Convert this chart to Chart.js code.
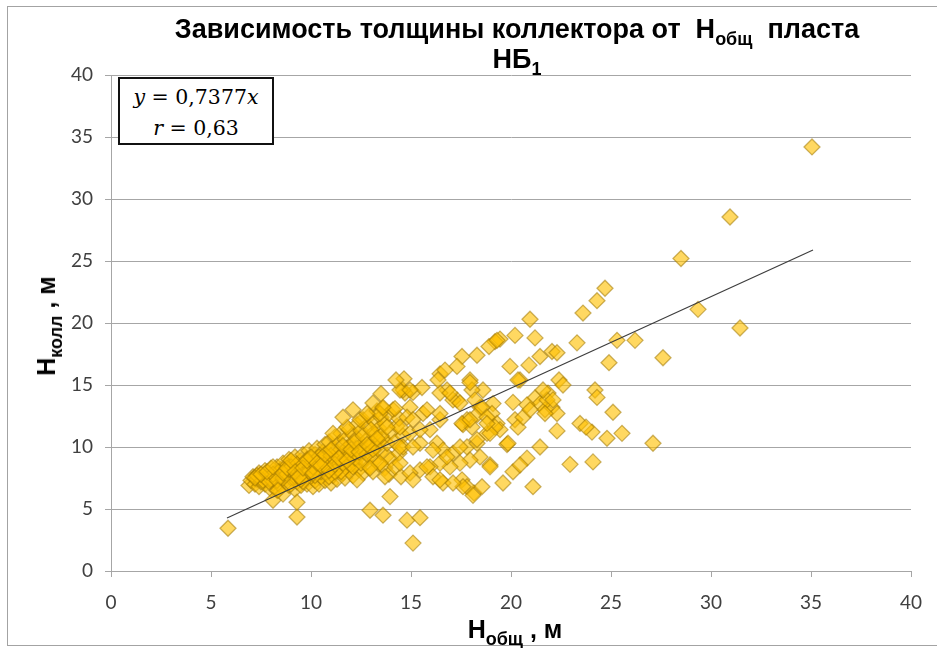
<!DOCTYPE html>
<html>
<head>
<meta charset="utf-8">
<script src="https://cdn.jsdelivr.net/npm/chart.js@4.4.1/dist/chart.umd.min.js"></script>
<style>
  html, body { margin: 0; padding: 0; background: #fff; }
  #wrap { position: relative; width: 937px; height: 648px; overflow: hidden; background: #fff; }
  #frame { position: absolute; left: 7px; top: 6px; width: 960px; height: 640px; border: 1.5px solid #a3a3a3; box-sizing: border-box; }
  canvas { position: absolute; left: 0; top: 0; }
  .ttl { position: absolute; white-space: nowrap; color: #000; font-family: 'Liberation Sans', Arial, sans-serif; font-weight: bold; }
  .ttl sub { font-size: 18px; vertical-align: -7px; line-height: 0; }
  #title { left: 0; top: 14px; width: 1034px; text-align: center; font-size: 27px; line-height: 30px; }
  #xtitle { left: 515px; top: 615px; transform: translateX(-50%); font-size: 25px; line-height: 28px; }
  #ytitle { left: 46px; top: 326px; transform: translate(-50%, -50%) rotate(-90deg); font-size: 25px; line-height: 28px; }
  #eq { position: absolute; left: 118px; top: 77px; width: 156px; height: 68px; border: 2.5px solid #111; box-sizing: border-box; background: #fff;
        font-family: 'DejaVu Serif', 'Liberation Serif', serif; font-size: 20.5px; line-height: 31px; text-align: center; padding-top: 3px; color: #000; }
</style>
</head>
<body>
<div id="wrap">
  <div id="frame"></div>
  <canvas id="c" width="937" height="648"></canvas>
  <div id="title" class="ttl">Зависимость толщины коллектора от&nbsp; Н<sub>общ</sub> &nbsp;пласта<br>НБ<sub>1</sub></div>
  <div id="ytitle" class="ttl">Н<sub>колл</sub> , м</div>
  <div id="xtitle" class="ttl">Н<sub>общ</sub> , м</div>
  <div id="eq"><i>y</i> = 0,7377<i>x</i><br><i>r</i> = 0,63</div>
</div>
<script>
// Regression shown in the box: Hколл = 0,7377 · Hобщ, drawn over the sampled range
const trendSlope = 0.7377;
const trendRange = [5.8, 35.1];

// Axis ticks
const xTicks = [0, 5, 10, 15, 20, 25, 30, 35, 40];
const yTicks = [0, 5, 10, 15, 20, 25, 30, 35, 40];

// Wells with thin sections (Hобщ, Hколл in metres), dense core of the sample
const coreSamples = [
  [6.9,6.9],[7.0,7.3],[7.1,7.6],[7.2,7.0],[7.3,7.4],[7.4,7.9],[7.4,6.8],[7.5,7.2],[7.6,7.6],[7.7,8.1],
  [7.7,7.0],[7.8,7.4],[7.9,7.8],[8.0,8.3],[8.0,6.6],[8.1,7.1],[8.2,7.5],[8.2,7.9],[8.3,8.4],[8.3,6.5],
  [8.4,7.0],[8.5,7.7],[8.5,8.2],[8.6,8.7],[8.6,6.2],[8.7,7.3],[8.8,7.9],[8.8,8.5],[8.9,9.0],[8.9,6.9],
  [9.0,7.5],[9.1,8.1],[9.1,8.7],[9.2,6.6],[9.2,9.2],[9.3,7.2],[9.3,7.8],[9.4,8.4],[9.5,8.9],[9.5,6.9],
  [9.6,9.4],[9.6,7.5],[9.7,8.1],[9.8,8.6],[9.8,7.0],[9.9,9.1],[9.9,9.7],[10.0,7.6],[10.0,8.2],[10.1,6.8],
  [10.1,8.8],[10.2,9.4],[10.2,7.3],[10.3,7.9],[10.3,9.9],[10.4,8.5],[10.4,7.0],[10.5,9.1],[10.5,7.6],[10.6,8.2],
  [10.6,9.6],[10.7,10.2],[10.7,7.3],[10.8,8.8],[10.8,7.9],[10.9,9.4],[10.9,10.4],[11.0,7.1],[11.0,8.5],[11.1,9.9],
  [11.1,7.7],[11.2,9.1],[11.2,10.8],[11.3,8.2],[11.3,7.4],[11.4,9.6],[11.4,10.3],[11.5,8.8],[11.5,11.1],[11.6,7.9],
  [11.6,9.3],[11.7,10.6],[11.7,7.5],[11.8,8.5],[11.8,9.9],[11.9,11.4],[11.9,8.1],[12.0,9.0],[12.0,10.2],[12.1,7.7],
  [12.1,11.0],[12.2,8.7],[12.2,9.6],[12.3,10.7],[12.3,11.8],[12.4,8.2],[12.4,9.2],[12.5,10.1],[12.5,11.3],[12.6,7.9],
  [12.6,12.2],[12.7,8.9],[12.7,9.8],[12.8,10.6],[12.8,11.7],[12.9,8.4],[12.9,12.5],[13.0,9.4],[13.0,10.3],[13.1,11.1],
  [13.1,8.0],[13.2,12.0],[13.2,9.0],[13.3,12.9],[13.3,10.0],[13.4,8.6],[13.4,11.5],[13.5,9.6],[13.5,12.4],[13.6,10.7],
  [13.6,13.1],[13.7,8.3],[13.7,11.9],[13.8,9.3],[13.8,10.3],[13.9,12.7],[13.9,7.8],[14.0,11.2],[14.0,9.0],[14.1,13.0],
  [14.2,10.4],[14.2,8.4],[14.3,11.7],[14.4,9.5],[14.4,12.3],[14.5,7.6],[14.6,10.9],
  [8.4,7.6],[8.7,8.0],[9.0,8.4],[9.2,7.6],[9.4,8.0],[9.7,7.8],[10.0,8.6],[10.3,8.3],[10.5,8.0],[10.8,8.4],
  [11.1,8.9],[11.4,8.6],[11.7,9.1],[12.0,8.6],[9.0,7.0],[9.6,7.2],[10.2,7.7],[10.9,7.6],[11.5,8.0],[12.1,8.4],
  [7.6,7.3],[8.0,7.4],[8.4,8.0],[9.8,9.0],[10.6,9.0],[11.3,9.5],[12.3,9.9],[12.9,10.0],[13.4,10.4],[13.2,11.0],
  [7.3,7.7],[7.9,7.2],[8.1,7.8],[8.6,7.5],[8.9,8.2],[9.3,8.6],[9.5,7.4],[9.9,8.0],[10.1,8.4],[10.4,9.2],
  [10.7,8.6],[11.0,9.3],[11.2,8.0],[11.6,8.7],[11.9,9.5],[12.2,9.1],[12.5,8.7],[12.8,9.4],[13.1,9.8],[13.5,10.9],
  [7.2,7.5],[7.5,7.8],[7.8,8.0],[8.1,8.4],[8.3,7.3],[8.6,7.9],[8.8,8.3],[9.0,8.9],[9.2,8.0],[9.4,7.6],
  [9.6,8.3],[9.8,8.9],[10.0,9.2],[10.1,7.9],[10.3,8.7],[10.5,8.5],[10.7,9.4],[10.9,8.1],[11.0,9.8],[11.2,8.6],
  [11.4,9.1],[11.6,10.1],[11.8,8.9],[12.0,9.8],[12.2,10.4],[12.4,9.6],[12.6,10.9],[12.8,10.2],[13.0,11.4],[13.3,10.7]
];

// Remaining wells, spread over the wider range
const spreadSamples = [
  [5.85,3.45],[35.05,34.2],[30.95,28.55],[28.5,25.2],[29.35,21.1],[31.45,19.6],[24.7,22.8],[24.3,21.8],[23.6,20.8],[20.95,20.3],
  [20.2,19.0],[19.45,18.7],[19.2,18.5],[18.9,18.1],[21.2,18.8],[23.3,18.4],[25.3,18.6],[26.2,18.6],[24.9,16.8],[27.6,17.2],
  [18.3,17.4],[17.55,17.3],[17.3,16.5],[16.45,15.9],[16.7,16.2],[19.95,16.5],[20.9,16.6],[21.45,17.3],[22.05,17.7],[22.3,17.6],
  [17.95,15.4],[18.6,14.6],[20.45,15.4],[22.4,15.4],[22.6,15.0],[24.2,14.6],[24.3,14.0],[25.1,12.8],[25.55,11.1],[24.8,10.7],
  [27.1,10.3],[24.05,11.2],[23.45,11.9],[23.75,11.6],[22.3,11.3],[21.45,10.0],[19.8,10.2],[22.95,8.6],[24.1,8.8],[21.1,6.8],
  [19.6,7.1],[18.15,6.3],[18.55,6.8],[20.1,8.0],[20.8,9.1],[20.45,8.55],[14.8,4.1],[15.45,4.3],[15.1,2.25],[21.2,13.95],
  [21.45,13.5],[21.7,13.0],[22.05,13.2],[21.85,14.35],[20.8,13.4],[20.1,13.6],[20.2,12.2],[20.35,11.6],[19.1,13.5],[19.05,12.7],
  [19.3,11.9],[18.45,13.2],[18.3,12.6],[17.8,12.2],[17.6,11.8],[18.05,11.6],[18.8,11.1],[19.45,11.4],[22.3,12.7],[16.45,12.2],
  [17.3,13.8],[16.8,14.6],[15.1,14.4],[15.55,14.8],[14.7,14.35],[14.95,13.2],[14.8,12.4],[15.6,12.7],[15.95,11.4],[14.95,11.1],
  [15.45,10.3],[14.6,10.0],[16.3,10.3],[16.6,9.75],[17.1,9.5],[17.8,10.0],[18.3,10.3],[18.45,9.2],[18.95,8.55],[17.95,8.95],
  [17.45,8.7],[16.95,8.4],[16.45,8.7],[15.95,8.4],[15.45,8.15],[14.95,7.9],[15.1,7.35],[16.1,7.6],[16.6,7.1],[17.55,7.35],
  [17.8,6.8],[12.95,4.9],[13.6,4.5],[13.95,6.0],[9.3,4.35],[9.3,5.55],[8.1,5.7],[14.2,13.1],[14.6,14.6],[19.3,18.6],
  [21.8,13.8],[21.7,12.7],[16.45,14.35],[17.1,13.8],[18.05,14.6],[18.2,13.8],[18.55,13.2],[17.55,11.9],[17.95,12.2],[18.8,12.4],
  [19.2,11.6],[18.95,11.1],[19.85,10.3],[20.6,12.4],[20.95,13.0],[21.6,14.6],[22.1,13.8],[20.35,15.4],[14.45,14.6],[14.95,14.6],
  [16.95,14.35],[17.95,15.2],[16.35,15.4],[17.6,6.8],[18.1,6.1],[18.95,8.4],[17.1,7.1],[16.45,7.35],[15.8,8.4],[14.45,8.7],
  [13.7,7.6],[13.45,8.7],[12.95,8.3],[12.3,7.35],[14.45,10.0],[15.1,10.0],[16.1,9.75],[16.8,9.2],[17.45,10.0],[18.3,10.6],
  [18.8,11.9],[17.45,13.55],[16.45,12.7],[15.8,13.0],[15.1,12.2],[15.45,11.4],[14.45,11.6],[13.8,11.6],[13.45,12.7],[13.1,13.55],
  [13.6,13.2],[12.45,12.2],[11.8,11.6],[11.1,11.1],[11.6,12.4],[12.1,13.0],[12.8,12.7],[8.35,6.5],[14.65,15.5],[14.25,15.4],
  [13.5,14.3]
];

const points = coreSamples.concat(spreadSamples).map(([x, y]) => ({ x, y }));
const trendLine = trendRange.map(x => ({ x, y: trendSlope * x }));

const axisGray = '#a6a6a6';
const tickFont = { family: 'Lato, "Open Sans", sans-serif', size: 19 };

new Chart(document.getElementById('c'), {
  type: 'scatter',
  data: {
    datasets: [
      {
        type: 'line',
        data: trendLine,
        borderColor: '#3d3d3d',
        borderWidth: 1.2,
        pointRadius: 0,
        fill: false,
        order: 0
      },
      {
        data: points,
        pointStyle: 'rectRot',
        pointRadius: 8,
        backgroundColor: 'rgba(255,192,0,0.62)',
        borderColor: 'rgba(160,120,0,0.55)',
        borderWidth: 1.3,
        order: 1
      }
    ]
  },
  options: {
    responsive: false,
    animation: false,
    devicePixelRatio: 1,
    events: [],
    layout: { padding: { left: 0, top: 75, right: 26, bottom: 0 } },
    plugins: { legend: { display: false }, tooltip: { enabled: false }, title: { display: false } },
    scales: {
      x: {
        type: 'linear', min: 0, max: 40,
        afterBuildTicks: s => { s.ticks = xTicks.map(v => ({ value: v })); },
        ticks: { color: '#404040', font: tickFont, padding: 14, maxRotation: 0 },
        grid: { drawOnChartArea: false, color: axisGray, tickLength: 6 },
        border: { color: axisGray, width: 1 },
        afterFit: s => { s.height = 77; }
      },
      y: {
        type: 'linear', min: 0, max: 40,
        afterBuildTicks: s => { s.ticks = yTicks.map(v => ({ value: v })); },
        ticks: { color: '#404040', font: tickFont, padding: 12 },
        grid: { color: axisGray, tickLength: 6 },
        border: { color: axisGray, width: 1 },
        afterFit: s => { s.width = 111; }
      }
    }
  }
});
</script>
</body>
</html>
